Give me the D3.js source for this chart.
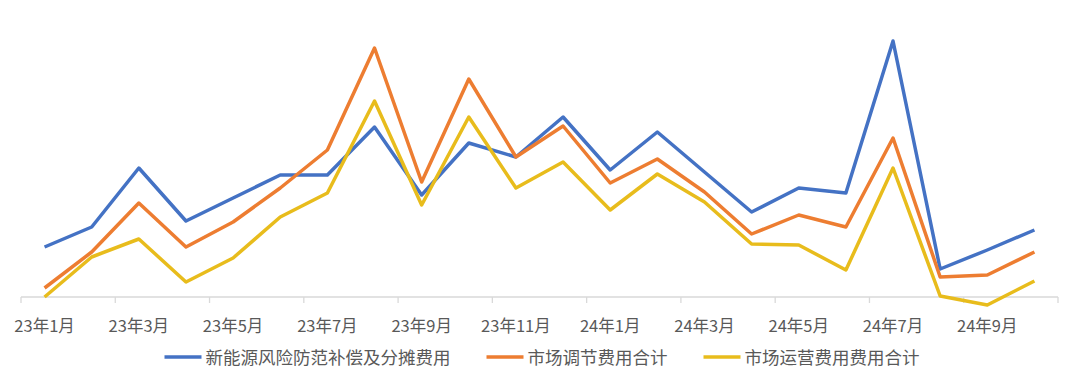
<!DOCTYPE html>
<html>
<head>
<meta charset="utf-8">
<script src="https://cdn.jsdelivr.net/npm/d3@7"></script>
<style>
  body { margin: 0; background: #fff; }
  svg { display: block; font-family: "Noto Sans CJK SC", "Noto Sans", sans-serif; }
</style>
</head>
<body>
<div id="chart"></div>
<script>
// 月份 (23年1月 ~ 24年10月)
const months = [
  "23年1月", "23年2月", "23年3月", "23年4月", "23年5月", "23年6月",
  "23年7月", "23年8月", "23年9月", "23年10月", "23年11月", "23年12月",
  "24年1月", "24年2月", "24年3月", "24年4月", "24年5月", "24年6月",
  "24年7月", "24年8月", "24年9月", "24年10月"
];

// 各系列數值（原圖無縱軸刻度，依圖上相對高度估讀）
const riskFee = [50, 70, 129, 76, 99, 122, 122, 170, 102, 154, 140, 180, 127, 165, 125, 85, 109, 104, 256, 28, 47, 67];
const adjustFee = [9, 45, 94, 50, 75, 109, 147, 249, 115, 218, 140, 171, 114, 138, 105, 63, 82, 70, 159, 20, 22, 45];
const operateFee = [0, 40, 58, 15, 39, 80, 104, 196, 92, 180, 109, 135, 87, 123, 95, 53, 52, 27, 129, 1, -8, 16];

const seriesNames = ["新能源风险防范补偿及分摊费用", "市场调节费用合计", "市场运营费用费用合计"];
const colors = ["#4472C4", "#ED7D31", "#E8BC1C"];

const width = 1080, height = 381;
const svg = d3.select("#chart").append("svg")
  .attr("width", width)
  .attr("height", height);

const x = d3.scaleBand().domain(months).range([21, 1058]);
const y = d3.scaleLinear().domain([0, 277]).range([297, 20]);

// 橫軸：刻度線在類別邊界，每兩個月一個標籤
const axisY = y(0);
const axisG = svg.append("g");
axisG.append("line")
  .attr("x1", x.range()[0]).attr("x2", x.range()[1])
  .attr("y1", axisY).attr("y2", axisY)
  .attr("stroke", "#d9d9d9").attr("stroke-width", 1.3);

const tickIdx = d3.range(0, months.length + 1, 2);
axisG.selectAll(".tick")
  .data(tickIdx)
  .enter()
  .append("line")
  .attr("x1", (i) => x.range()[0] + i * x.step())
  .attr("x2", (i) => x.range()[0] + i * x.step())
  .attr("y1", axisY).attr("y2", axisY + 6)
  .attr("stroke", "#d9d9d9").attr("stroke-width", 1.3);

axisG.selectAll(".lbl")
  .data(months.filter((d, i) => i % 2 === 0))
  .enter()
  .append("text")
  .attr("x", (d) => x(d) + x.bandwidth() / 2)
  .attr("y", 332)
  .attr("text-anchor", "middle")
  .attr("font-size", 16.5)
  .attr("fill", "#595959")
  .text((d) => d);

// 折線
const line = d3.line()
  .x((d, i) => x(months[i]) + x.bandwidth() / 2)
  .y((d) => y(d));

[riskFee, adjustFee, operateFee].forEach((vals, k) => {
  svg.append("path")
    .datum(vals)
    .attr("fill", "none")
    .attr("stroke", colors[k])
    .attr("stroke-width", 3.5)
    .attr("stroke-linejoin", "round")
    .attr("d", line);
});

// 圖例
const legend = svg.append("g");
let lx = 0;
seriesNames.forEach((name, k) => {
  const item = legend.append("g").attr("transform", `translate(${lx},0)`);
  item.append("line")
    .attr("x1", 0).attr("x2", 37)
    .attr("y1", 0).attr("y2", 0)
    .attr("stroke", colors[k]).attr("stroke-width", 3.5);
  const t = item.append("text")
    .attr("x", 41).attr("y", 7)
    .attr("font-size", 17.5)
    .attr("fill", "#595959")
    .text(name);
  lx += 41 + t.node().getComputedTextLength() + 36;
});
const legendW = lx - 36;
legend.attr("transform", `translate(${(width - legendW) / 2 + 2},${357})`);
</script>
</body>
</html>
